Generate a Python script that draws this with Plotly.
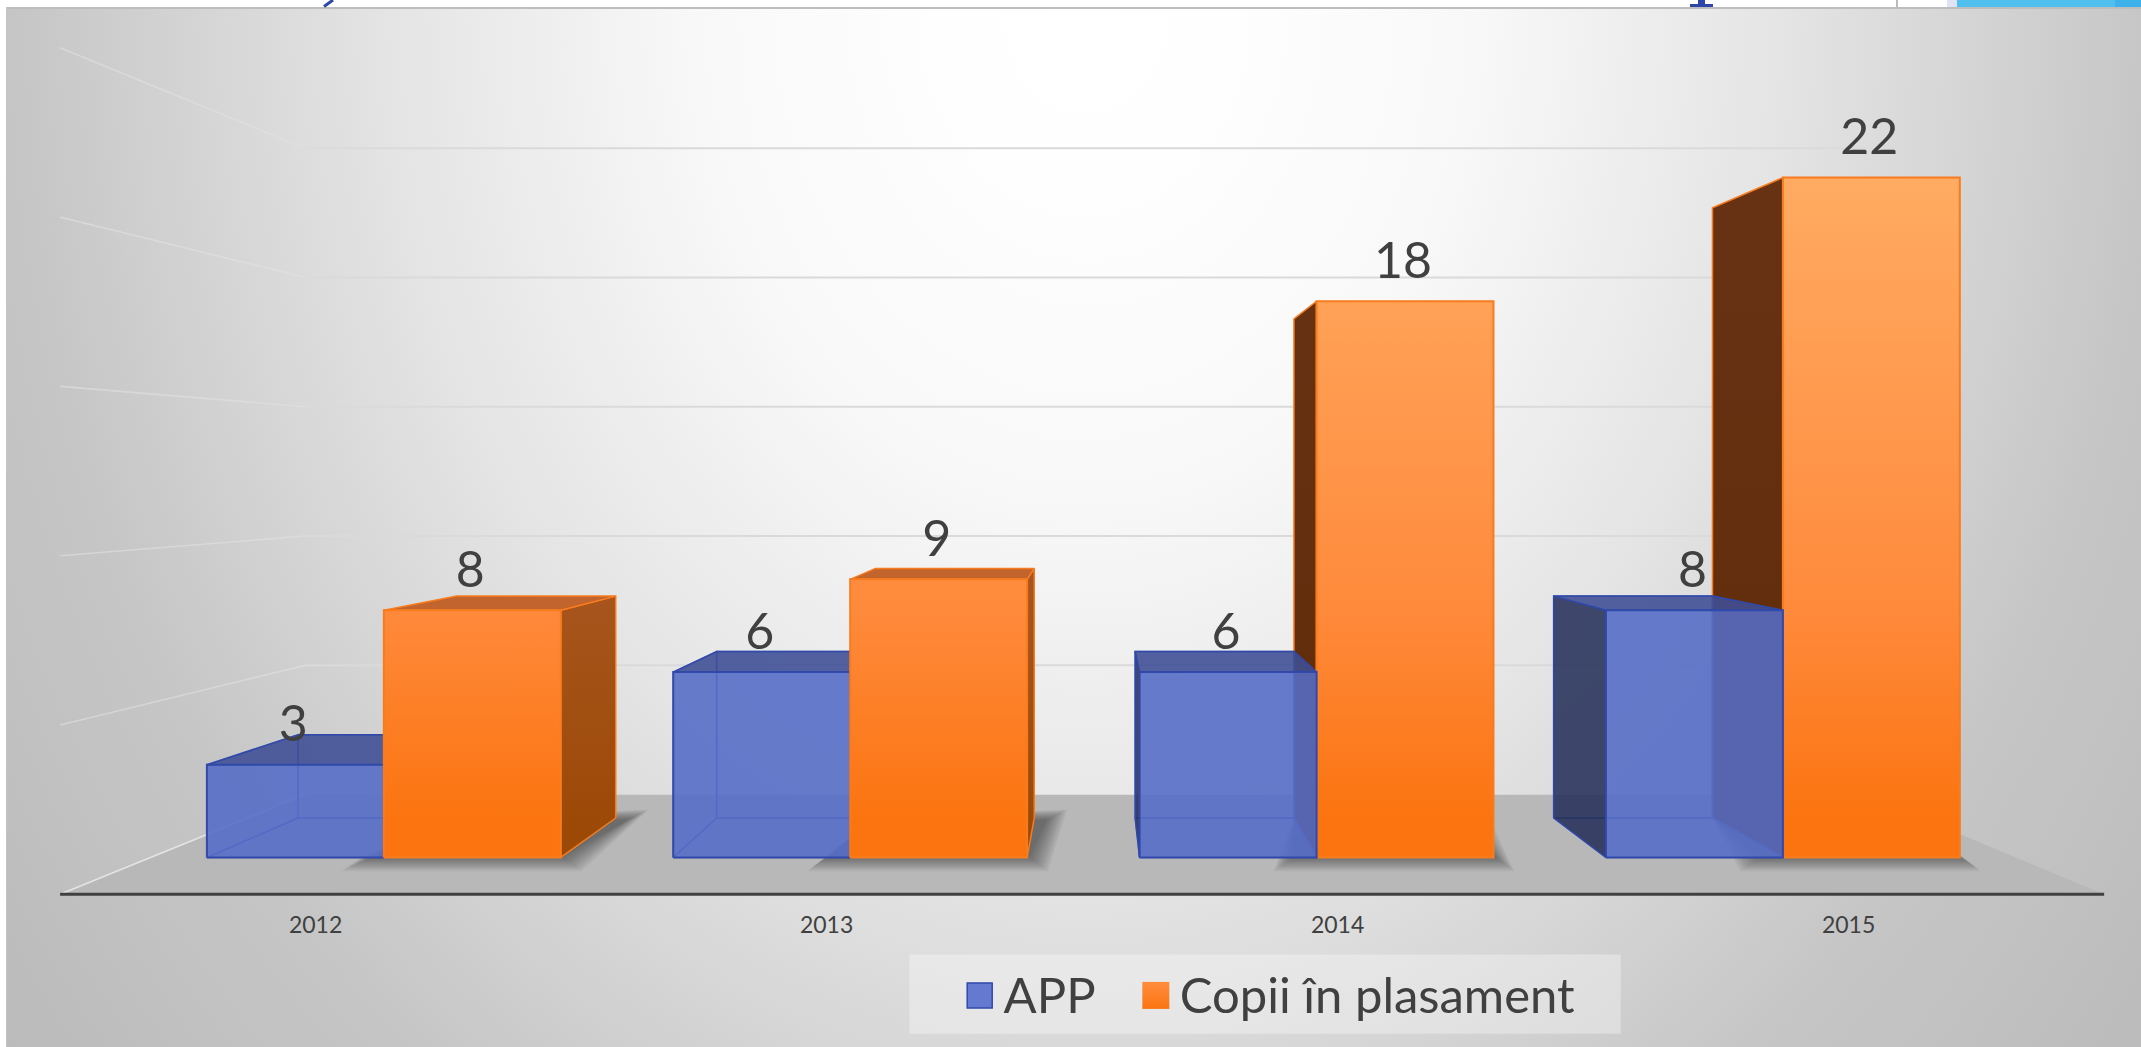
import plotly.graph_objects as go

categories = ["2012", "2013", "2014", "2015"]
series_names = ["APP", "Copii în plasament"]
app = [3, 6, 6, 8]
copii = [8, 9, 18, 22]
gridlines = [0, 5, 10, 15, 20, 25]

W, H = 2141, 1047
K = 2141 / 1568
VX, VY = 803 * K, 346 * K
FLOOR_Y, X0, X1 = 655 * K, 44 * K, 1541 * K
UNIT = 24.8 * K
S_WALL, S_FRONT, S_BACK = 0.7637, 0.9126, 0.819
PITCH = (X1 - X0) / len(categories)
BAR_W = 142 * K
FONT = "Lato"
TXT = "#404040"


def P(wx, h, s):
    """world x (px on the front plane), value, depth scale -> screen"""
    return VX + (wx - VX) * s, VY + (FLOOR_Y - UNIT * h - VY) * s


fig = go.Figure()


def poly(pts, fill=None, line=None, lw=0, grad=None):
    xs = [p[0] for p in pts] + [pts[0][0]]
    ys = [p[1] for p in pts] + [pts[0][1]]
    t = dict(x=xs, y=ys, mode="lines", fill="toself", hoverinfo="skip", showlegend=False,
             line=dict(color=line or "rgba(0,0,0,0)", width=lw))
    if grad:
        t["fillgradient"] = grad
    else:
        t["fillcolor"] = fill
    fig.add_trace(go.Scatter(**t))


def vgrad(stops):
    return dict(type="vertical", colorscale=stops, start=0, stop=H)


# background
cx, cy = 1085, 10
rx, ry = 1490, 1850
poly([(cx - rx, cy - ry), (cx + rx, cy - ry), (cx + rx, cy + ry), (cx - rx, cy + ry)],
     grad=dict(type="radial", colorscale=[[0, "#ffffff"], [0.1, "#fefefe"], [0.264, "#f8f8f8"], [0.47, "#e4e4e4"],
                                          [0.714, "#c6c6c6"], [1, "#b6b6b6"]]))

# floor
poly([P(X0, 0, 1), P(X1, 0, 1), P(X1, 0, S_WALL), P(X0, 0, S_WALL)], fill="#b8b8b8")

# walls' gridlines
for g in gridlines:
    a, b, c = P(X0, g, 1), P(X0, g, S_WALL), P(X1, g, S_WALL)
    side = "rgba(232,232,232,0.9)" if g == 0 else "rgba(225,225,225,0.6)"
    fig.add_trace(go.Scatter(x=[a[0], b[0]], y=[a[1], b[1]], mode="lines", hoverinfo="skip", showlegend=False,
                             line=dict(color=side, width=1.6)))
    if g > 0:
        fig.add_trace(go.Scatter(x=[b[0], c[0]], y=[b[1], c[1]], mode="lines", hoverinfo="skip", showlegend=False,
                                 line=dict(color="#dadada", width=2)))

# shadows behind the orange bars
for i in range(len(categories)):
    c = X0 + PITCH * (i + 0.5)
    l, r = c, c + BAR_W
    for n in range(14, -1, -1):
        grow = n * 1.5
        fl, fr = P(l, 0, S_FRONT), P(r, 0, S_FRONT)
        bl, br = P(l, 0, S_BACK), P(r, 0, S_BACK)
        poly([(fl[0] - 22 - grow, fl[1] - 1 + grow * 0.7), (fr[0] + 2 + grow * 0.9, fr[1] - 1 + grow * 0.7),
              (br[0] + 12 + grow, br[1] + 2 - grow * 0.5), (bl[0], bl[1])], fill="rgba(25,25,25,0.04)")

BL_EDGE = "rgba(47,72,170,0.95)"
OR_EDGE = "#f87c1e"


def blue_bar(i):
    c = X0 + PITCH * (i + 0.5)
    l, r, h = c - BAR_W, c, app[i]
    f = P
    inner = "rgba(62,88,190,0.75)"
    poly([f(l, 0, S_BACK), f(r, 0, S_BACK), f(r, h, S_BACK), f(l, h, S_BACK)], fill="rgba(90,112,200,0.3)", line=inner, lw=1.5)
    poly([f(l, 0, S_FRONT), f(r, 0, S_FRONT), f(r, 0, S_BACK), f(l, 0, S_BACK)], fill="rgba(90,112,200,0.3)", line=inner, lw=1.5)
    poly([f(r, 0, S_FRONT), f(r, h, S_FRONT), f(r, h, S_BACK), f(r, 0, S_BACK)], fill="rgba(70,90,180,0.2)", line=inner, lw=1.5)
    if l > VX:
        poly([f(l, 0, S_FRONT), f(l, h, S_FRONT), f(l, h, S_BACK), f(l, 0, S_BACK)], fill="rgba(34,44,82,0.82)", line=BL_EDGE, lw=1.5)
    else:
        poly([f(l, 0, S_FRONT), f(l, h, S_FRONT), f(l, h, S_BACK), f(l, 0, S_BACK)], fill="rgba(90,112,200,0.3)", line=inner, lw=1.5)
    poly([f(l, h, S_FRONT), f(r, h, S_FRONT), f(r, h, S_BACK), f(l, h, S_BACK)], fill="rgba(62,78,148,0.85)", line=BL_EDGE, lw=1.5)
    poly([f(l, 0, S_FRONT), f(r, 0, S_FRONT), f(r, h, S_FRONT), f(l, h, S_FRONT)], fill="rgba(86,110,198,0.86)", line=BL_EDGE, lw=2)


def orange_bar(i):
    c = X0 + PITCH * (i + 0.5)
    l, r, h = c, c + BAR_W, copii[i]
    f = P
    if r < VX:
        poly([f(r, 0, S_FRONT), f(r, h, S_FRONT), f(r, h, S_BACK), f(r, 0, S_BACK)], line=OR_EDGE, lw=1.5,
             grad=vgrad([[0, "#c06a30"], [0.55, "#a8561f"], [0.8, "#9c4806"], [1, "#9c4806"]]))
    if l > VX:
        poly([f(l, 0, S_FRONT), f(l, h, S_FRONT), f(l, h, S_BACK), f(l, 0, S_BACK)], line=OR_EDGE, lw=1.5,
             grad=vgrad([[0, "#6a3418"], [0.6, "#622e0c"], [1, "#5c2a08"]]))
    if FLOOR_Y - UNIT * h > VY:
        poly([f(l, h, S_FRONT), f(r, h, S_FRONT), f(r, h, S_BACK), f(l, h, S_BACK)], fill="#c2642e", line=OR_EDGE, lw=1.5)
    poly([f(l, 0, S_FRONT), f(r, 0, S_FRONT), f(r, h, S_FRONT), f(l, h, S_FRONT)], line=OR_EDGE, lw=2,
         grad=vgrad([[0, "#ffb878"], [0.17, "#ffab62"], [0.58, "#ff8a3c"], [0.78, "#fb7410"], [1, "#fb7410"]]))


for i in range(len(categories)):
    if X0 + PITCH * (i + 0.5) < VX:
        blue_bar(i)
        orange_bar(i)
    else:
        orange_bar(i)
        blue_bar(i)

# axis line
a, b = P(X0, 0, 1), P(X1, 0, 1)
fig.add_trace(go.Scatter(x=[a[0], b[0]], y=[a[1], b[1]], mode="lines", hoverinfo="skip", showlegend=False,
                         line=dict(color="#404040", width=3)))

# tick labels
fig.add_trace(go.Scatter(x=[X0 + PITCH * (i + 0.5) for i in range(len(categories))],
                         y=[FLOOR_Y + 33] * len(categories), mode="text", text=categories, hoverinfo="skip",
                         showlegend=False, textfont=dict(family=FONT, size=23, color=TXT)))

# data labels
lx, ly, lt = [], [], []
for i in range(len(categories)):
    c = X0 + PITCH * (i + 0.5)
    p1 = P(c - BAR_W / 2, app[i], S_FRONT)
    p2 = P(c + BAR_W / 2, copii[i], S_FRONT)
    lx += [p1[0] - 2, p2[0] - 2]
    ly += [p1[1] - 36, p2[1] - 36]
    lt += [str(app[i]), str(copii[i])]
fig.add_trace(go.Scatter(x=lx, y=ly, mode="text", text=lt, hoverinfo="skip", showlegend=False,
                         textfont=dict(family=FONT, size=50, color=TXT)))

# legend panel, swatches and names
LEG_Y = 729 * K
poly([(666 * K, 699 * K), (1187 * K, 699 * K), (1187 * K, 757 * K), (666 * K, 757 * K)], fill="rgba(255,255,255,0.32)")
fig.add_trace(go.Scatter(x=[717.5 * K], y=[LEG_Y], mode="markers", hoverinfo="skip", showlegend=False,
                         marker=dict(symbol="square", size=25, color="#637ad0", line=dict(color="#2f48aa", width=1.5))))
fig.add_trace(go.Scatter(x=[846.5 * K], y=[LEG_Y], mode="markers", hoverinfo="skip", showlegend=False,
                         marker=dict(symbol="square", size=27, color="#ff8c3e",
                                     gradient=dict(type="vertical", color="#fb7410"), line=dict(width=0))))
fig.add_trace(go.Scatter(x=[735 * K, 864 * K], y=[LEG_Y + 5, LEG_Y + 5], mode="text", text=series_names,
                         textposition="middle right", hoverinfo="skip", showlegend=False,
                         textfont=dict(family=FONT, size=49, color=TXT)))


def r(x0, x1, y0, y1, color):
    return dict(type="rect", xref="paper", yref="paper", x0=x0 / W, x1=x1 / W, y0=1 - y1 / H, y1=1 - y0 / H,
                fillcolor=color, line=dict(width=0), layer="above")


fig.update_layout(
    width=W, height=H, margin=dict(l=0, r=0, t=0, b=0), showlegend=False,
    paper_bgcolor="#ffffff", plot_bgcolor="#ffffff",
    xaxis=dict(range=[0, W], visible=False),
    yaxis=dict(range=[H, 0], visible=False),
    shapes=[
        r(0, 6, 0, H, "#ffffff"),
        r(0, W, 0, 7, "#ffffff"),
        r(6, W, 7, 9, "#bdbdbd"),
        r(6, 7, 7, H, "#c4c4c4"),
        r(1957, W, 0, 7, "#4fbfee"),
        r(2115, W, 0, 7, "#3db2ea"),
        r(1947, 1957, 0, 7, "#dfe3f5"),
        r(1896, 1898, 0, 7, "#bbbbbb"),
        r(1690, 1713, 4, 7, "#2d46a8"),
        r(1698, 1705, 0, 4, "#2d46a8"),
        dict(type="line", xref="paper", yref="paper", x0=333 / W, x1=324 / W, y0=1, y1=1 - 6.5 / H,
             line=dict(color="#2d46a8", width=3), layer="above"),
    ],
)
fig.write_html("out.html", post_script="document.body.style.margin='0';document.body.style.overflow='hidden';",
               config=dict(displayModeBar=False))
